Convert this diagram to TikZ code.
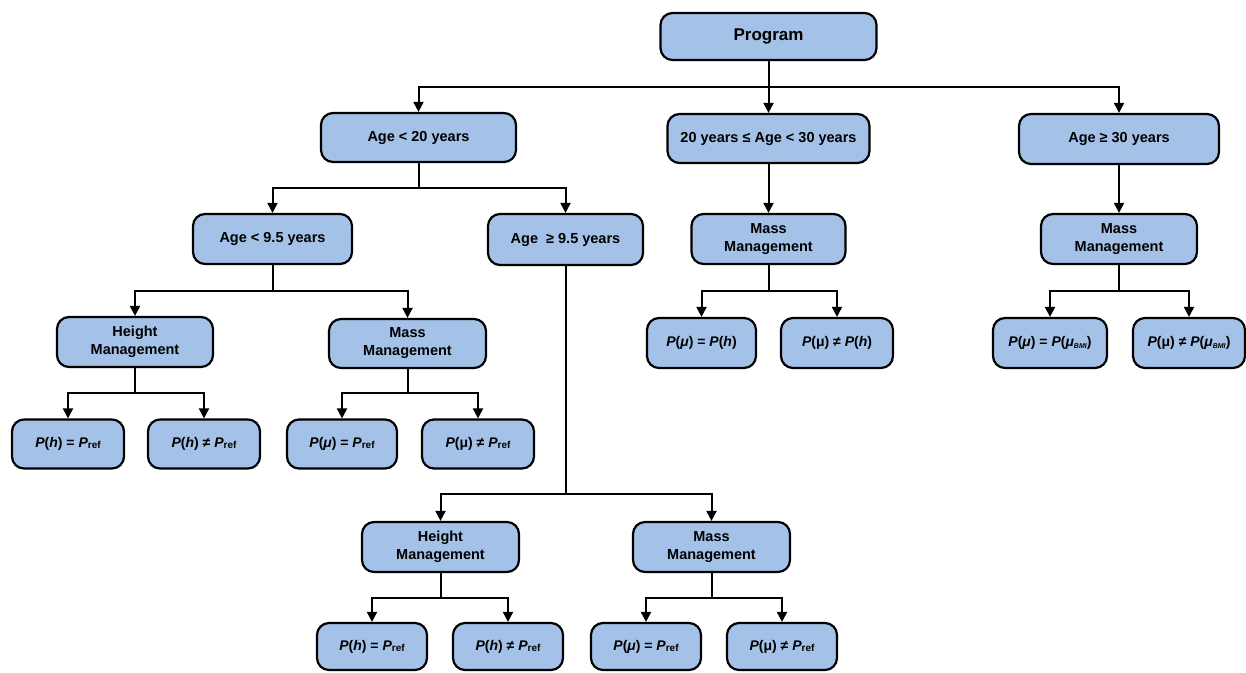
\documentclass[tikz,border=0pt]{standalone}
\usepackage{fontspec}
\setmainfont{Liberation Sans}
\usetikzlibrary{arrows.meta}
\definecolor{boxfill}{RGB}{164,194,232}

% small pieces of the formula labels
\newcommand\Pit{\textit{P}}
\newcommand\refsub{\raisebox{-1pt}{\fontsize{10}{10}\selectfont ref}}
\newcommand\bmisub{\raisebox{-1.5pt}{\fontsize{7}{7}\selectfont\textit{BMI}}}

\begin{document}
\begin{tikzpicture}[x=1pt,y=-1pt,
  box/.style={draw=black, line width=2.2pt, fill=boxfill, rounded corners=12pt,
    align=center, inner sep=0pt,
    font=\bfseries\fontsize{14.5}{18}\selectfont},
  formula/.style={box, font=\bfseries\fontsize{14}{17}\selectfont},
  sz/.style 2 args={minimum width=#1pt, minimum height=#2pt},
  link/.style={line width=2pt, -{Triangle[width=10pt,length=10pt]}},
  plain/.style={line width=2pt}]
\useasboundingbox (0,0) rectangle (1246,672);

% root and age groups
\node[box, sz={216}{47}, font=\bfseries\fontsize{17}{20}\selectfont] (prog) at (768.5,36.5) {Program};
\node[box, sz={195}{49}] (a1) at (418.5,137.5) {Age < 20 years};
\node[box, sz={202}{49}] (a2) at (768.5,138.5) {20 years ≤ Age < 30 years};
\node[box, sz={200}{50}] (a3) at (1119,139) {Age ≥ 30 years};

% second level
\node[box, sz={159}{50}] (b1) at (272.5,239) {Age < 9.5 years};
\node[box, sz={155}{51}] (b2) at (565.5,239.5) {Age~ ≥ 9.5 years};
\node[box, sz={154}{50}] (m2) at (768.5,239) {Mass\\Management};
\node[box, sz={156}{50}] (m3) at (1119,239) {Mass\\Management};

% younger than 9.5 years
\node[box, sz={156}{50}] (h1) at (135,342) {Height\\Management};
\node[box, sz={157}{49}] (m1) at (407.5,343.5) {Mass\\Management};
\node[formula, sz={112}{49}] (f1) at (68,444) {\Pit(\textit{h}) = \Pit\refsub};
\node[formula, sz={112}{49}] (f2) at (204,444) {\Pit(\textit{h}) ≠ \Pit\refsub};
\node[formula, sz={110}{49}] (f3) at (342,444) {\Pit(\textit{μ}) = \Pit\refsub};
\node[formula, sz={112}{49}] (f4) at (478,444) {\Pit(μ) ≠ \Pit\refsub};

% 20 to 30 years
\node[formula, sz={109}{50}] (g1) at (701.5,343) {\Pit(\textit{μ}) = \Pit(\textit{h})};
\node[formula, sz={112}{50}] (g2) at (837,343) {\Pit(μ) ≠ \Pit(\textit{h})};

% 30 years and older
\node[formula, sz={114}{50}] (k1) at (1050,343) {\Pit(\textit{μ}) = \Pit(\textit{μ}\bmisub)};
\node[formula, sz={112}{50}] (k2) at (1189,343) {\Pit(μ) ≠ \Pit(\textit{μ}\bmisub)};

% 9.5 years and older
\node[box, sz={157}{50}] (h2) at (440.5,547) {Height\\Management};
\node[box, sz={157}{50}] (m4) at (711.5,547) {Mass\\Management};
\node[formula, sz={110}{47}] (q1) at (372,646.5) {\Pit(\textit{h}) = \Pit\refsub};
\node[formula, sz={110}{47}] (q2) at (508,646.5) {\Pit(\textit{h}) ≠ \Pit\refsub};
\node[formula, sz={110}{47}] (q3) at (646,646.5) {\Pit(\textit{μ}) = \Pit\refsub};
\node[formula, sz={110}{47}] (q4) at (782,646.5) {\Pit(μ) ≠ \Pit\refsub};

% connectors
\draw[link] (prog.south) -- ++(0,26) -| (a1.north);
\draw[link] (prog.south) -- ++(0,26) -| (a3.north);
\draw[link] (prog.south) -- (a2.north);

\draw[link] (a1.south) -- ++(0,25) -| (b1.north);
\draw[link] (a1.south) -- ++(0,25) -| (b2.north);
\draw[link] (a2.south) -- (m2.north);
\draw[link] (a3.south) -- (m3.north);

\draw[link] (b1.south) -- ++(0,26) -| (h1.north);
\draw[link] (b1.south) -- ++(0,26) -| (m1.north);
\draw[link] (h1.south) -- ++(0,25) -| (f1.north);
\draw[link] (h1.south) -- ++(0,25) -| (f2.north);
\draw[link] (m1.south) -- ++(0,24) -| (f3.north);
\draw[link] (m1.south) -- ++(0,24) -| (f4.north);

\draw[link] (m2.south) -- ++(0,26) -| (g1.north);
\draw[link] (m2.south) -- ++(0,26) -| (g2.north);
\draw[link] (m3.south) -- ++(0,26) -| (k1.north);
\draw[link] (m3.south) -- ++(0,26) -| (k2.north);

\draw[link] (b2.south) -- ++(0,228) -| (h2.north);
\draw[link] (b2.south) -- ++(0,228) -| (m4.north);
\draw[link] (h2.south) -- ++(0,25) -| (q1.north);
\draw[link] (h2.south) -- ++(0,25) -| (q2.north);
\draw[link] (m4.south) -- ++(0,25) -| (q3.north);
\draw[link] (m4.south) -- ++(0,25) -| (q4.north);
\end{tikzpicture}
\end{document}
